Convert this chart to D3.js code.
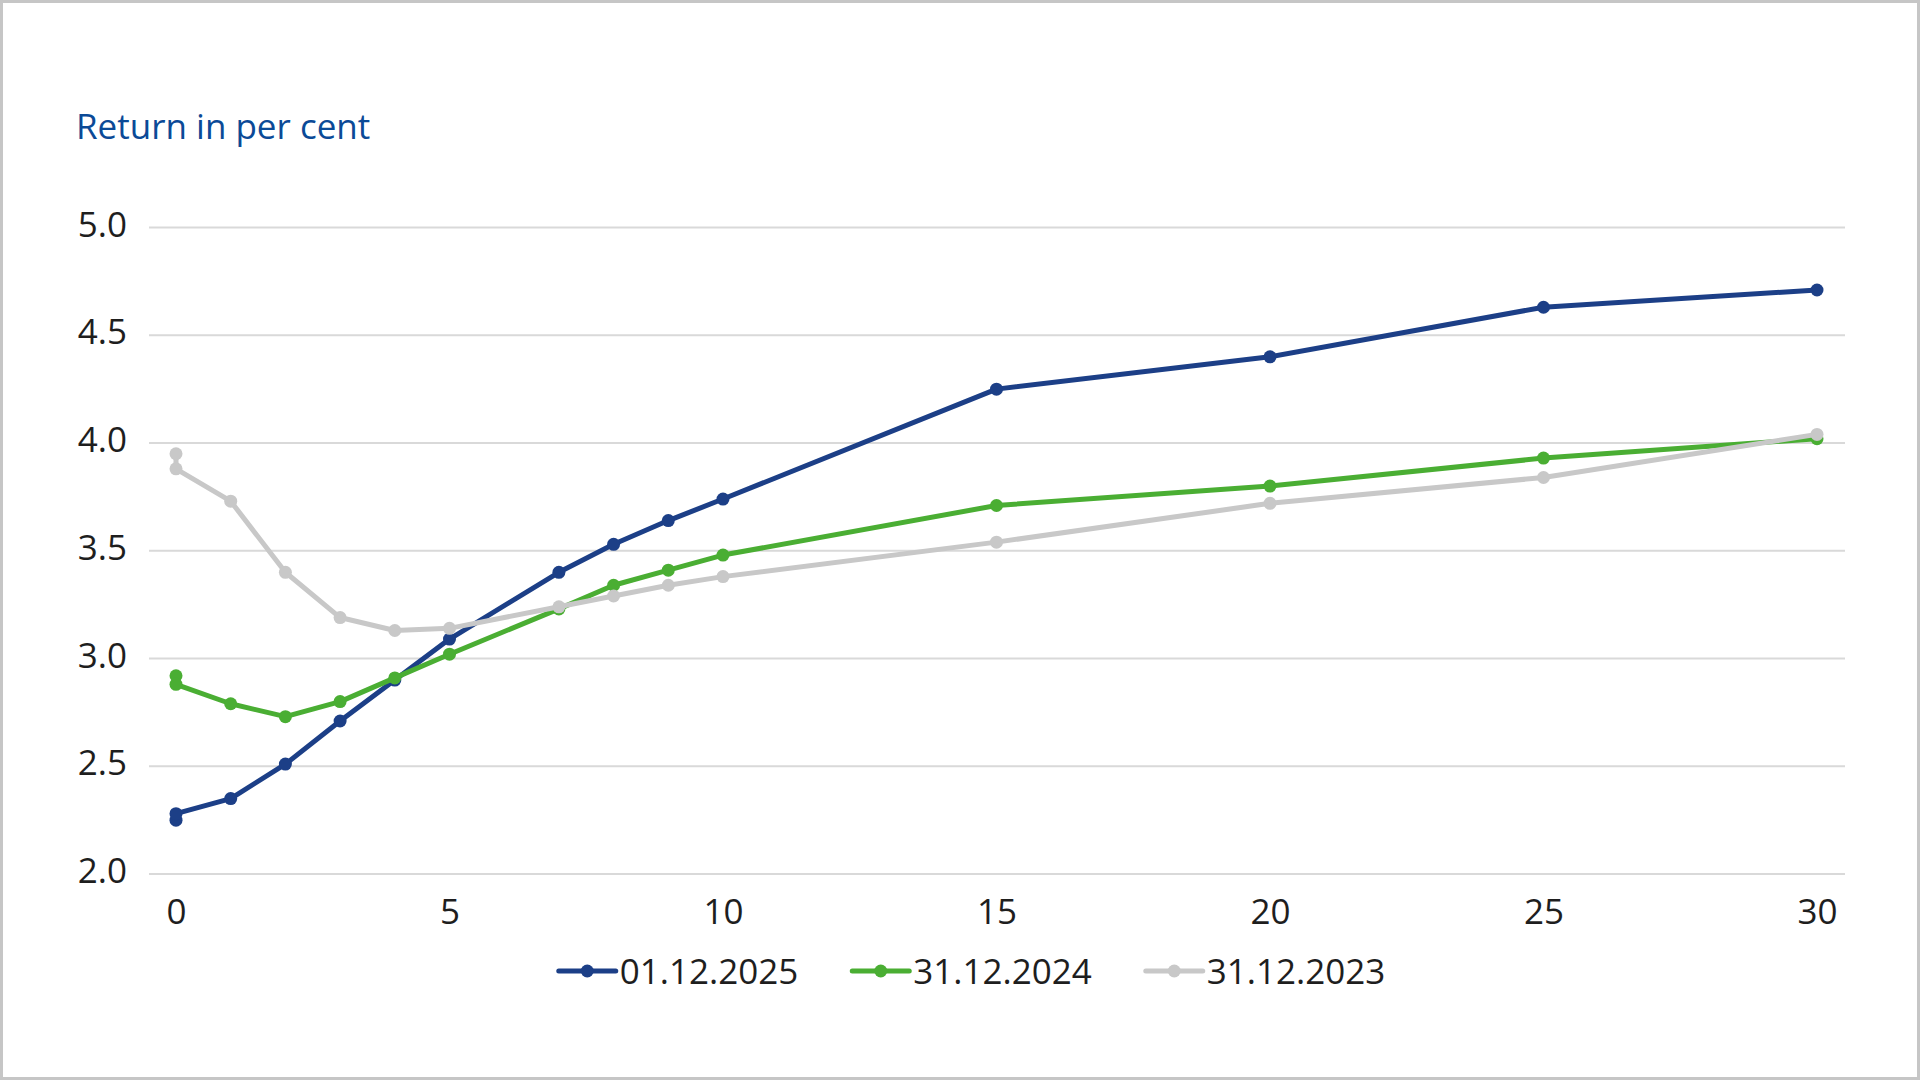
<!DOCTYPE html>
<html><head><meta charset="utf-8">
<script src="https://cdn.jsdelivr.net/npm/d3@7"></script>
<style>
body{margin:0;background:#fff}
svg{display:block}
text{font-family:"Open Sans","Noto Sans",sans-serif}
</style>
</head><body>
<svg id="chart" width="1920" height="1080"></svg>
<script>
// ---- data ----
const maturities = [0, 0, 1, 2, 3, 4, 5, 7, 8, 9, 10, 15, 20, 25, 30];
const seriesNames = ["01.12.2025", "31.12.2024", "31.12.2023"];
const yields2025 = [2.25, 2.28, 2.35, 2.51, 2.71, 2.90, 3.09, 3.40, 3.53, 3.64, 3.74, 4.25, 4.40, 4.63, 4.71];
const yields2024 = [2.92, 2.88, 2.79, 2.73, 2.80, 2.91, 3.02, 3.23, 3.34, 3.41, 3.48, 3.71, 3.80, 3.93, 4.02];
const yields2023 = [3.95, 3.88, 3.73, 3.40, 3.19, 3.13, 3.14, 3.24, 3.29, 3.34, 3.38, 3.54, 3.72, 3.84, 4.04];
const xTicks = [0, 5, 10, 15, 20, 25, 30];
const yTicks = [2.0, 2.5, 3.0, 3.5, 4.0, 4.5, 5.0];
const yAxisTitle = "Return in per cent";

// ---- style ----
const colors = ["#1c3f87", "#4aae33", "#c8c8c8"];
const W = 1920, H = 1080;
const fontSize = 35;

const svg = d3.select("#chart");

// frame
svg.append("rect").attr("x", 1.5).attr("y", 1.5).attr("width", W - 3).attr("height", H - 3)
  .attr("fill", "#fff").attr("stroke", "#c6c6c6").attr("stroke-width", 3);

const x = d3.scaleLinear().domain([0, 30]).range([176, 1817]);
const y = d3.scaleLinear().domain([2, 5]).range([874, 227.5]);
const gridX0 = 149, gridX1 = 1845;

// title
svg.append("text").attr("x", 76).attr("y", 139)
  .attr("fill", "#0b4a97").attr("font-size", fontSize).text(yAxisTitle);

// gridlines
svg.append("g").selectAll("line").data(yTicks).join("line")
  .attr("x1", gridX0).attr("x2", gridX1)
  .attr("y1", d => y(d)).attr("y2", d => y(d))
  .attr("stroke", "#d9d9d9").attr("stroke-width", 2);

// y axis labels
const yAxis = svg.append("g").attr("transform", "translate(127,0)")
  .call(d3.axisLeft(y).tickValues(yTicks).tickFormat(d3.format(".1f")).tickSize(0).tickPadding(0));
yAxis.select(".domain").remove();
yAxis.selectAll("text").attr("font-size", fontSize).attr("fill", "#1e1e1e")
  .attr("font-family", '"Open Sans","Noto Sans",sans-serif').attr("dy", 8.5);

// x axis labels
const xAxis = svg.append("g").attr("transform", "translate(0,874)")
  .call(d3.axisBottom(x).tickValues(xTicks).tickFormat(d3.format("d")).tickSize(0).tickPadding(0));
xAxis.select(".domain").remove();
xAxis.selectAll("text").attr("font-size", fontSize).attr("fill", "#1e1e1e")
  .attr("font-family", '"Open Sans","Noto Sans",sans-serif').attr("y", 0).attr("dy", 50);

// series
const allSeries = [yields2025, yields2024, yields2023].map((vals, i) => ({
  name: seriesNames[i], color: colors[i],
  pts: vals.map((v, j) => ({ m: maturities[j], v }))
}));

const line = d3.line().x(d => x(d.m)).y(d => y(d.v));

allSeries.forEach(s => {
  const g = svg.append("g");
  g.append("path").datum(s.pts).attr("d", line)
    .attr("fill", "none").attr("stroke", s.color).attr("stroke-width", 5)
    .attr("stroke-linejoin", "round").attr("stroke-linecap", "round");
  g.selectAll("circle").data(s.pts).join("circle")
    .attr("cx", d => x(d.m)).attr("cy", d => y(d.v)).attr("r", 6.5)
    .attr("fill", s.color);
});

// legend
const legend = svg.append("g");
const legY = 971;
const items = legend.selectAll("g").data(allSeries).join("g");
items.append("line").attr("x1", 0).attr("x2", 57).attr("y1", legY).attr("y2", legY)
  .attr("stroke", d => d.color).attr("stroke-width", 5).attr("stroke-linecap", "round");
items.append("circle").attr("cx", 28.5).attr("cy", legY).attr("r", 6.5).attr("fill", d => d.color);
items.append("text").attr("x", 61).attr("y", legY + 12.5).attr("font-size", fontSize)
  .attr("fill", "#1e1e1e").text(d => d.name);
let cursor = 0;
const offsets = [];
items.each(function () {
  const tw = d3.select(this).select("text").node().getComputedTextLength();
  offsets.push(cursor);
  cursor += 61 + tw + 54;
});
const total = cursor - 54;
const startX = 972 - total / 2;
items.attr("transform", (d, i) => `translate(${startX + offsets[i]},0)`);
</script>
</body></html>
